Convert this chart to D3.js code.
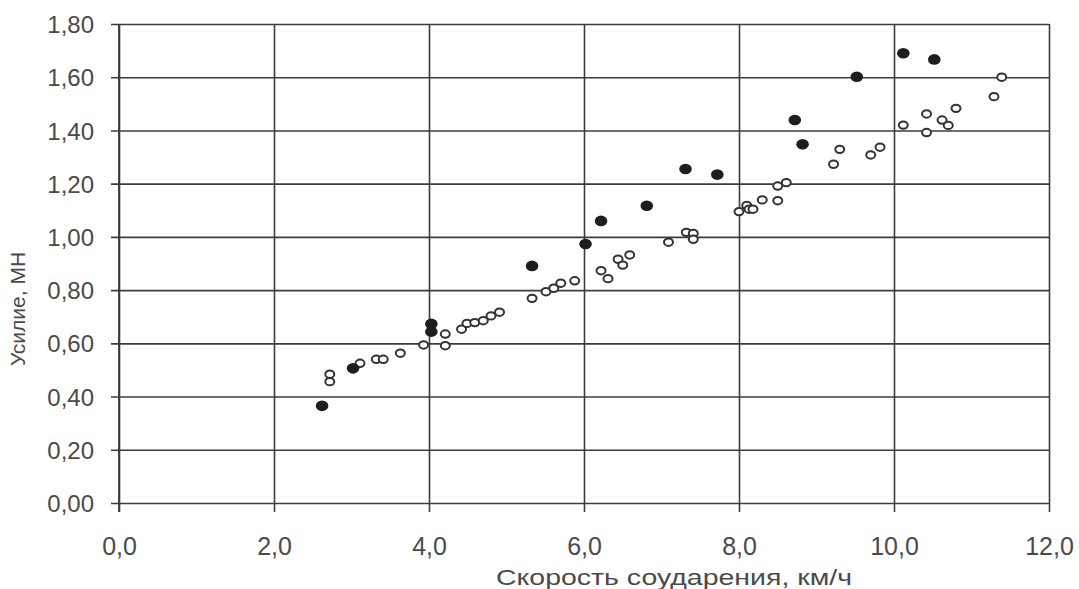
<!DOCTYPE html>
<html>
<head>
<meta charset="utf-8">
<script src="https://cdn.jsdelivr.net/npm/d3@7"></script>
<style>
  html, body { margin: 0; padding: 0; background: #fff; }
  svg { display: block; }
  text { font-family: "Liberation Sans", Arial, sans-serif; fill: #4a4a4a; }
</style>
</head>
<body>
<svg id="chart" width="1079" height="589"></svg>
<script>
// ---- data ----
const xTicks = [0, 2, 4, 6, 8, 10, 12];
const yTicks = [0, 0.2, 0.4, 0.6, 0.8, 1.0, 1.2, 1.4, 1.6, 1.8];
const xTitle = "Скорость соударения, км/ч";
const yTitle = "Усилие, МН";

const filledX = [2.62, 3.02, 4.03, 4.03, 5.33, 6.02, 6.22, 6.81, 7.31, 7.72, 8.72, 8.82, 9.52, 10.12, 10.52];
const filledY = [0.365, 0.506, 0.673, 0.644, 0.891, 0.973, 1.06, 1.117, 1.255, 1.234, 1.439, 1.348, 1.602, 1.69, 1.667];

const openX = [2.72, 2.72, 3.11, 3.32, 3.41, 3.63, 3.93, 4.21, 4.21, 4.42, 4.49, 4.59, 4.70, 4.80, 4.91,
               5.33, 5.51, 5.61, 5.70, 5.88, 6.22, 6.31, 6.44, 6.50, 6.59, 7.09, 7.32, 7.41, 7.41,
               8.00, 8.10, 8.13, 8.18, 8.30, 8.50, 8.50, 8.61, 9.22, 9.30, 9.70, 9.82,
               10.12, 10.42, 10.42, 10.62, 10.70, 10.80, 11.29, 11.39];
const openY = [0.484, 0.456, 0.525, 0.540, 0.540, 0.563, 0.594, 0.635, 0.591, 0.653, 0.675, 0.678, 0.685, 0.703, 0.717,
               0.769, 0.794, 0.807, 0.826, 0.835, 0.873, 0.843, 0.916, 0.894, 0.932, 0.980, 1.017, 1.013, 0.991,
               1.095, 1.118, 1.104, 1.104, 1.139, 1.136, 1.191, 1.204, 1.273, 1.329, 1.308, 1.337,
               1.420, 1.462, 1.392, 1.439, 1.419, 1.483, 1.527, 1.600];

// ---- layout ----
const svg = d3.select("#chart");
const margin = {left: 119, right: 30, top: 24, bottom: 86};
const W = 1079, H = 589;
const iw = W - margin.left - margin.right;
const ih = H - margin.top - margin.bottom;

const x = d3.scaleLinear().domain([0, 12]).range([0, iw]);
const y = d3.scaleLinear().domain([0, 1.8]).range([ih, 0]);

const loc = d3.formatLocale({decimal: ",", thousands: " ", grouping: [3], currency: ["", ""]});
const fx = loc.format(".1f");
const fy = loc.format(".2f");

const g = svg.append("g").attr("transform", `translate(${margin.left},${margin.top})`);

const lineColor = "#3c3c3c";

// x axis with full-height grid lines
const xAxis = g.append("g")
  .attr("transform", `translate(0,${ih})`)
  .call(d3.axisBottom(x).tickValues(xTicks).tickFormat(fx).tickSize(-ih).tickSizeOuter(0).tickPadding(0));
xAxis.select(".domain").remove();
xAxis.selectAll(".tick line").attr("y1", 9).attr("y2", -ih).attr("stroke", lineColor).attr("stroke-width", 1.6);
xAxis.selectAll(".tick text").attr("y", 52).attr("dy", 0).attr("font-size", 25).style("fill", "#4a4a4a");

// y axis with full-width grid lines
const yAxis = g.append("g")
  .call(d3.axisLeft(y).tickValues(yTicks).tickFormat(fy).tickSize(-iw).tickSizeOuter(0).tickPadding(0));
yAxis.select(".domain").remove();
yAxis.selectAll(".tick line").attr("x1", -8).attr("x2", iw).attr("stroke", lineColor).attr("stroke-width", 1.6);
yAxis.selectAll(".tick text").attr("x", -25).attr("dy", "0.36em").attr("font-size", 24).style("fill", "#4a4a4a");

// left axis line
g.append("line").attr("x1", 0).attr("x2", 0).attr("y1", 0).attr("y2", ih + 9)
  .attr("stroke", lineColor).attr("stroke-width", 1.8);

// axis titles
svg.append("text")
  .attr("x", 674).attr("y", 585)
  .attr("text-anchor", "middle").attr("font-size", 22)
  .attr("textLength", 356).attr("lengthAdjust", "spacingAndGlyphs")
  .text(xTitle);

svg.append("text")
  .attr("transform", `translate(25,${309}) rotate(-90)`)
  .attr("text-anchor", "middle").attr("font-size", 21)
  .text(yTitle);

// open markers
g.append("g").selectAll("ellipse")
  .data(openX.map((v, i) => [v, openY[i]]))
  .join("ellipse")
  .attr("cx", d => x(d[0])).attr("cy", d => y(d[1]))
  .attr("rx", 4.5).attr("ry", 3.7)
  .attr("fill", "#fff").attr("stroke", "#333").attr("stroke-width", 2);

// filled markers
g.append("g").selectAll("ellipse")
  .data(filledX.map((v, i) => [v, filledY[i]]))
  .join("ellipse")
  .attr("cx", d => x(d[0])).attr("cy", d => y(d[1]))
  .attr("rx", 6.3).attr("ry", 5.3)
  .attr("fill", "#1e1e1e");
</script>
</body>
</html>
